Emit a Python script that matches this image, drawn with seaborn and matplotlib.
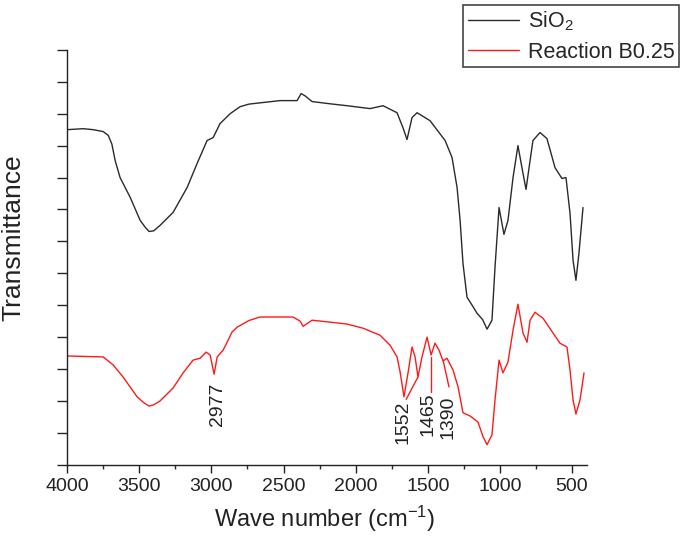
import pandas as pd
import matplotlib
matplotlib.use("Agg")
import matplotlib.pyplot as plt
import seaborn as sns

# FTIR spectra (transmittance in arbitrary units)
sio2_wn = [4000, 3889, 3820, 3750, 3715, 3690, 3667, 3633, 3563, 3494, 3460, 3432, 3400,
           3356, 3265, 3168, 3099, 3030, 2988, 2940, 2870, 2801, 2740, 2663, 2524, 2406,
           2378, 2351, 2302, 2177, 2060, 1900, 1810, 1713, 1672, 1644, 1609, 1574, 1484,
           1380, 1332, 1297, 1276, 1256, 1228, 1190, 1159, 1120, 1089, 1055, 1034, 1006,
           972, 944, 909, 875, 840, 819, 791, 771, 722, 674, 618, 570, 542, 514, 493, 473,
           452, 424]
sio2_t = [10.50, 10.53, 10.50, 10.44, 10.32, 10.05, 9.53, 9.00, 8.38, 7.66, 7.45, 7.31,
          7.33, 7.50, 7.91, 8.69, 9.44, 10.16, 10.25, 10.69, 11.00, 11.22, 11.30, 11.34,
          11.41, 11.41, 11.63, 11.56, 11.38, 11.31, 11.25, 11.16, 11.25, 11.03, 10.56, 10.19,
          10.88, 11.03, 10.78, 10.16, 9.63, 8.69, 7.66, 6.31, 5.25, 4.98, 4.75, 4.55, 4.25,
          4.53, 6.19, 8.06, 7.22, 7.66, 9.00, 10.00, 9.13, 8.63, 9.53, 10.16, 10.41, 10.22,
          9.31, 8.97, 9.00, 7.88, 6.41, 5.78, 6.63, 8.06]

b025_wn = [4000, 3750, 3681, 3612, 3515, 3470, 3432, 3400, 3356, 3265, 3196, 3127, 3078,
           3037, 3009, 2981, 2960, 2919, 2891, 2857, 2822, 2740, 2663, 2434, 2385, 2364,
           2302, 2177, 2060, 1949, 1831, 1762, 1713, 1692, 1665, 1637, 1609, 1588, 1568,
           1540, 1505, 1477, 1450, 1422, 1394, 1367, 1325, 1290, 1256, 1207, 1152, 1117,
           1089, 1055, 1034, 1006, 979, 944, 909, 875, 840, 812, 791, 757, 701, 632, 584,
           535, 514, 493, 473, 445, 417]
b025_t = [3.41, 3.38, 3.13, 2.75, 2.13, 1.95, 1.84, 1.88, 2.00, 2.41, 2.88, 3.28, 3.34,
          3.53, 3.44, 2.84, 3.38, 3.59, 3.84, 4.16, 4.31, 4.52, 4.63, 4.63, 4.50, 4.34,
          4.53, 4.47, 4.41, 4.28, 4.06, 3.75, 3.38, 2.91, 2.13, 2.88, 3.69, 3.38, 2.75,
          3.38, 4.00, 3.44, 3.81, 3.59, 3.25, 3.34, 2.97, 2.44, 1.63, 1.53, 1.34, 0.88,
          0.63, 0.94, 2.03, 3.28, 2.88, 3.22, 4.22, 5.03, 4.13, 3.84, 4.53, 4.78, 4.59,
          4.13, 3.81, 3.69, 2.97, 2.03, 1.59, 2.03, 2.88]

# peak labels: text, label x, label top, leader start (on curve), leader end
peak_labels = ["2977", "1552", "1465", "1390"]
label_wn = [2961, 1672, 1498, 1360]
label_top = [2.56, 2.03, 2.28, 2.16]
leader_from = [None, (1568, 2.75), (1477, 3.38), (1394, 3.28)]
leader_to = [None, (1650, 2.05), (1477, 2.28), (1353, 2.44)]

sns.set_style("ticks")
plt.rcParams["font.family"] = ["Liberation Sans", "DejaVu Sans"]
plt.rcParams["mathtext.default"] = "regular"

fig = plt.figure(figsize=(6.85, 5.54), dpi=100)
ax = fig.add_axes([0.098, 0.161, 0.759, 0.749])

df_sio2 = pd.DataFrame({"wn": sio2_wn, "t": sio2_t})
df_b = pd.DataFrame({"wn": b025_wn, "t": b025_t})
sns.lineplot(data=df_sio2, x="wn", y="t", color="#2a2a2a", lw=1.0, ax=ax,
             label="SiO$_2$", estimator=None)
sns.lineplot(data=df_b, x="wn", y="t", color="#ff1a1a", lw=1.0, ax=ax,
             label="Reaction B0.25", estimator=None)

for txt, wx, wy, p0, p1 in zip(peak_labels, label_wn, label_top, leader_from, leader_to):
    ax.text(wx, wy, txt, rotation=90, ha="center", va="top", fontsize=14, color="#222222")
    if p0 is not None:
        ax.plot([p0[0], p1[0]], [p0[1], p1[1]], color="#ff1a1a", lw=1.0)

ax.set_xlim(4000, 396)
ax.set_ylim(0, 13)
ax.set_xticks([4000, 3500, 3000, 2500, 2000, 1500, 1000, 500])
ax.set_xticks(range(3750, 396, -500), minor=True)
ax.set_yticks(range(0, 14))
ax.set_yticklabels([])
ax.tick_params(axis="x", which="major", length=6, width=1, labelsize=14, colors="#222222")
ax.tick_params(axis="x", which="minor", length=3, width=1)
ax.tick_params(axis="y", length=7, width=1)
sns.despine(ax=ax)
for s in ["left", "bottom"]:
    ax.spines[s].set_color("#222222")
    ax.spines[s].set_linewidth(1.0)

ax.set_xlabel("Wave number (cm$^{-1}$)", fontsize=17, color="#222222")
ax.set_ylabel("Transmittance", fontsize=19, color="#222222")
ax.xaxis.set_label_coords(0.496, -0.095)
ax.yaxis.set_label_coords(-0.081, 0.547)

ax.get_legend().remove()
handles, labels = ax.get_legend_handles_labels()
leg = fig.legend(handles, labels, loc="upper right", bbox_to_anchor=(679 / 685, 1 - 5 / 554),
                 fontsize=15.5, frameon=True, fancybox=False, edgecolor="#444444",
                 framealpha=1, handlelength=2.4, handletextpad=0.4, borderaxespad=0,
                 labelspacing=0.4, borderpad=0.2)
leg.get_frame().set_linewidth(1.2)

fig.savefig("out.png", dpi=100)
